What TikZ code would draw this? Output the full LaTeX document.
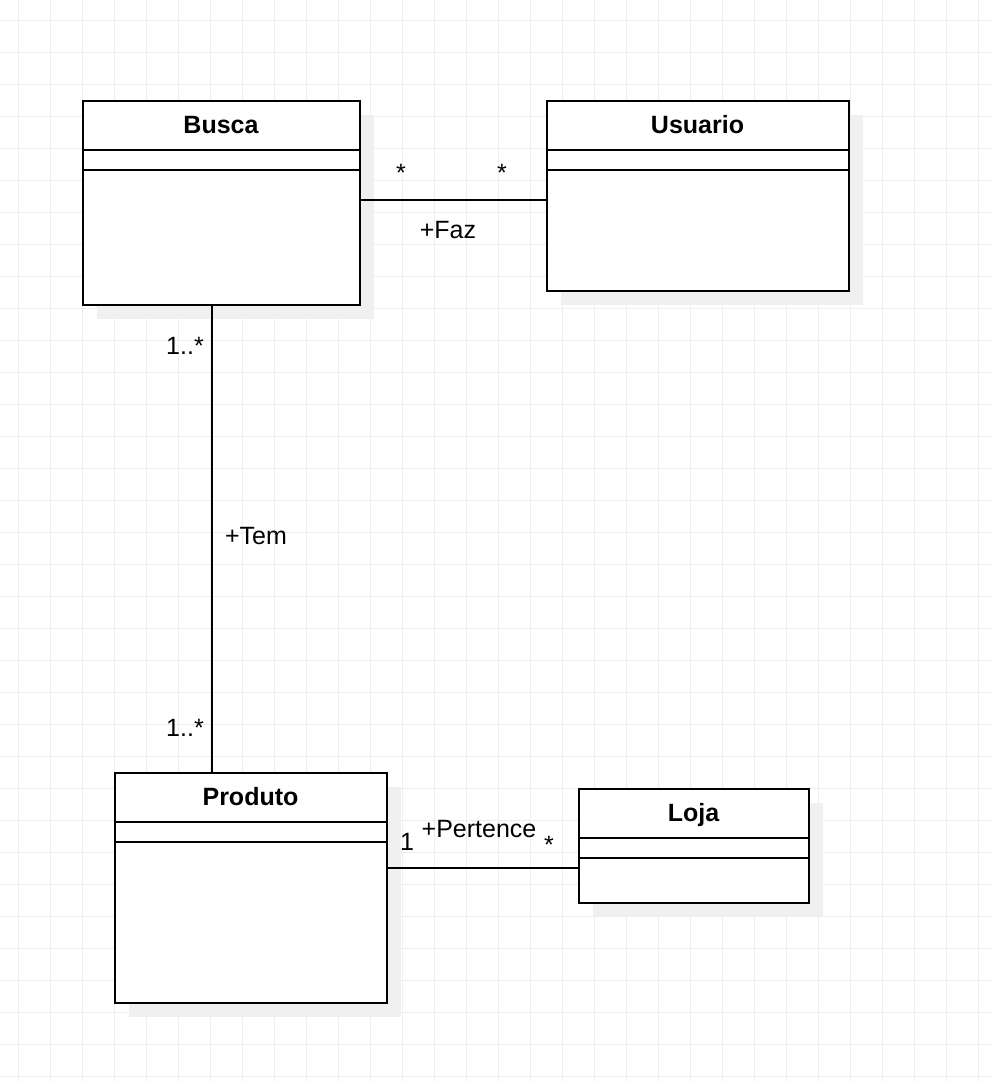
\documentclass[tikz,border=0pt]{standalone}
\usepackage{fontspec}
\setmainfont{Liberation Sans}
\usetikzlibrary{positioning,calc,shadows}
\definecolor{gridgray}{HTML}{EEEEEE}
\definecolor{shadowgray}{HTML}{F0F0F0}

\begin{document}
\begin{tikzpicture}[x=0.5pt,y=-0.5pt,
    classbox/.style={draw=black,line width=1pt,fill=white,anchor=north west,inner sep=0pt,
      drop shadow={shadow xshift=7pt,shadow yshift=-7pt,fill=shadowgray,opacity=1}},
    classname/.style={font=\bfseries\fontsize{12.5}{15}\selectfont,anchor=base,inner sep=0pt},
    assoc/.style={line width=1pt},
    lbl/.style={font=\fontsize{12.5}{15}\selectfont,anchor=base,inner sep=0pt}]
      \useasboundingbox (0,0) rectangle (992,1082);
      \fill[white] (0,0) rectangle (992,1082);

      % grid
      \foreach \x in {18,50,...,978}
      \draw[gridgray,line width=0.5pt] (\x,0) -- (\x,1082);
      \foreach \y in {20,52,...,1076}
      \draw[gridgray,line width=0.5pt] (0,\y) -- (992,\y);

      % classes
      \node[classbox,minimum width=138.5pt,minimum height=102pt] (busca) at (81.5,99.5) {};
      \node[classbox,minimum width=151pt,minimum height=95pt] (usuario) at (545.5,99.5) {};
      \node[classbox,minimum width=136pt,minimum height=115pt] (produto) at (113.5,771.5) {};
      \node[classbox,minimum width=115pt,minimum height=57pt] (loja) at (577.5,787.5) {};

      \foreach \b in {busca,usuario,produto,loja} {
        \draw[assoc] ($(\b.north west)+(0,50)$) -- ($(\b.north east)+(0,50)$);
        \draw[assoc] ($(\b.north west)+(0,70)$) -- ($(\b.north east)+(0,70)$);
      }

      \node[classname] (buscaname) at ($(busca.north)+(0,34)$) {Busca};
      \node[classname] (usuarioname) at ($(usuario.north)+(0,34)$) {Usuario};
      \node[classname] (produtoname) at ($(produto.north)+(0,34)$) {Produto};
      \node[classname] (lojaname) at ($(loja.north)+(0,34)$) {Loja};

      % associations
      \coordinate (fazrow) at (0,200);
      \coordinate (temcol) at (212,0);
      \coordinate (pertrow) at (0,868);
      \draw[assoc] (busca.east |- fazrow) -- (usuario.west |- fazrow);
      \draw[assoc] (busca.south -| temcol) -- (produto.north -| temcol);
      \draw[assoc] (produto.east |- pertrow) -- (loja.west |- pertrow);

      \node[lbl] (fazl) at (401,181) {*};
      \node[lbl] (fazr) at (502,181) {*};
      \node[lbl] (faz) at (448,238) {+Faz};
      \node[lbl] (temtop) at (185,354) {1..*};
      \node[lbl] (tem) at (256,544) {+Tem};
      \node[lbl] (tembot) at (185,736) {1..*};
      \node[lbl] (pertl) at (407,850) {1};
      \node[lbl] (pert) at (479,837) {+Pertence};
      \node[lbl] (pertr) at (549,853) {*};
\end{tikzpicture}
\end{document}
